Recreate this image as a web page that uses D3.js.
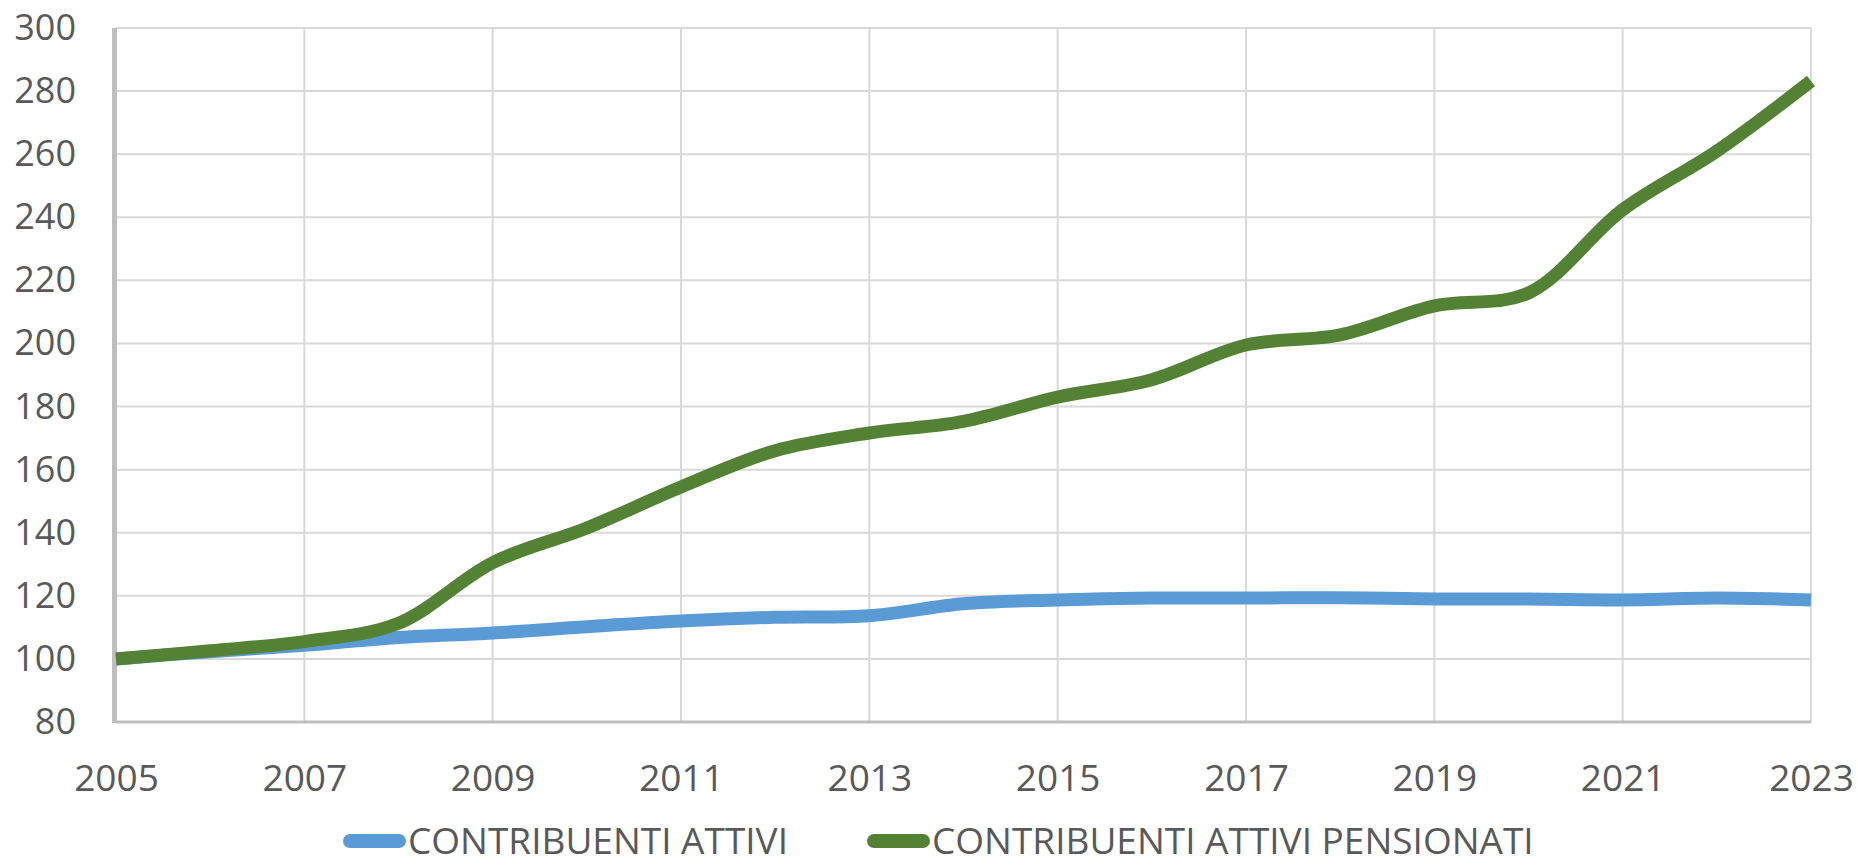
<!DOCTYPE html>
<html>
<head>
<meta charset="utf-8">
<script src="https://cdn.jsdelivr.net/npm/d3@7"></script>
<style>
  body { margin: 0; background: #fff; }
  text { font-family: "Open Sans", sans-serif; fill: #595959; }
</style>
</head>
<body>
<svg id="chart" width="1858" height="868"></svg>
<script>
// data
const years = [2005, 2006, 2007, 2008, 2009, 2010, 2011, 2012, 2013, 2014,
  2015, 2016, 2017, 2018, 2019, 2020, 2021, 2022, 2023];
const attivi = [100, 102.3, 104.3, 106.8, 108.2, 110.2, 112, 113.2, 113.7, 117.5,
  118.7, 119.3, 119.3, 119.4, 119, 119, 118.7, 119.3, 118.7];
const pensionati = [100, 102.6, 105.5, 111.3, 130.5, 141.5, 154.5, 166, 171.6, 175.3,
  183, 188.5, 199.5, 202.7, 211.9, 216, 242.4, 261, 283.2];
const seriesNames = ["CONTRIBUENTI ATTIVI", "CONTRIBUENTI ATTIVI PENSIONATI"];
const seriesColors = ["#5b9bd5", "#548235"];
const yTicks = [80, 100, 120, 140, 160, 180, 200, 220, 240, 260, 280, 300];
const xTicks = [2005, 2007, 2009, 2011, 2013, 2015, 2017, 2019, 2021, 2023];

const svg = d3.select("#chart");

const x = d3.scaleLinear().domain([2005, 2023]).range([116, 1811]);
const y = d3.scaleLinear().domain([80, 300]).range([722, 28]);

// gridlines
svg.append("g")
  .selectAll("line")
  .data(yTicks.slice(1))
  .join("line")
  .attr("x1", x(2005))
  .attr("x2", x(2023))
  .attr("y1", d => y(d))
  .attr("y2", d => y(d))
  .style("stroke", "#d9d9d9")
  .style("stroke-width", 2);

svg.append("g")
  .selectAll("line")
  .data(xTicks.slice(1))
  .join("line")
  .attr("x1", d => x(d))
  .attr("x2", d => x(d))
  .attr("y1", y(300))
  .attr("y2", y(80))
  .style("stroke", "#d9d9d9")
  .style("stroke-width", 2);

// axes (labels only, lines drawn below)
const yAxis = svg.append("g")
  .attr("transform", `translate(${x(2005)},0)`)
  .call(d3.axisLeft(y).tickValues(yTicks).tickSize(0).tickPadding(40));
yAxis.select(".domain").remove();
yAxis.selectAll("text")
  .style("font-size", "36px")
  .style("font-family", "'Open Sans', sans-serif")
  .attr("fill", "#595959");

const xAxis = svg.append("g")
  .attr("transform", `translate(0,${y(80)})`)
  .call(d3.axisBottom(x).tickValues(xTicks).tickFormat(d3.format("d")).tickSize(0).tickPadding(43));
xAxis.select(".domain").remove();
xAxis.selectAll("text")
  .style("font-size", "37px")
  .style("font-family", "'Open Sans', sans-serif")
  .attr("fill", "#595959");

// axis lines
svg.append("line")
  .attr("x1", x(2005)).attr("x2", x(2023))
  .attr("y1", y(80)).attr("y2", y(80))
  .style("stroke", "#bfbfbf")
  .style("stroke-width", 3);

svg.append("line")
  .attr("x1", x(2005) - 1.5).attr("x2", x(2005) - 1.5)
  .attr("y1", y(300)).attr("y2", y(80) + 1)
  .style("stroke", "#bfbfbf")
  .style("stroke-width", 5);

// lines
const line = d3.line()
  .x((d, i) => x(years[i]))
  .y(d => y(d))
  .curve(d3.curveCatmullRom.alpha(0.5));

svg.append("g")
  .selectAll("path")
  .data([attivi, pensionati])
  .join("path")
  .attr("d", d => line(d))
  .style("fill", "none")
  .style("stroke", (d, i) => seriesColors[i])
  .style("stroke-width", 13)
  .style("stroke-linejoin", "round");

// legend (nudged up a little so the text is not clipped)
const legend = svg.append("g");
let lx = 343;
seriesNames.forEach((name, i) => {
  legend.append("line")
    .attr("x1", lx + 7).attr("x2", lx + 56)
    .attr("y1", 841).attr("y2", 841)
    .style("stroke", seriesColors[i])
    .style("stroke-width", 14)
    .style("stroke-linecap", "round");
  const t = legend.append("text")
    .attr("x", lx + 65)
    .attr("y", 854)
    .style("font-size", "37px")
    .text(name);
  lx = lx + 65 + t.node().getComputedTextLength() + 79;
});
</script>
</body>
</html>
